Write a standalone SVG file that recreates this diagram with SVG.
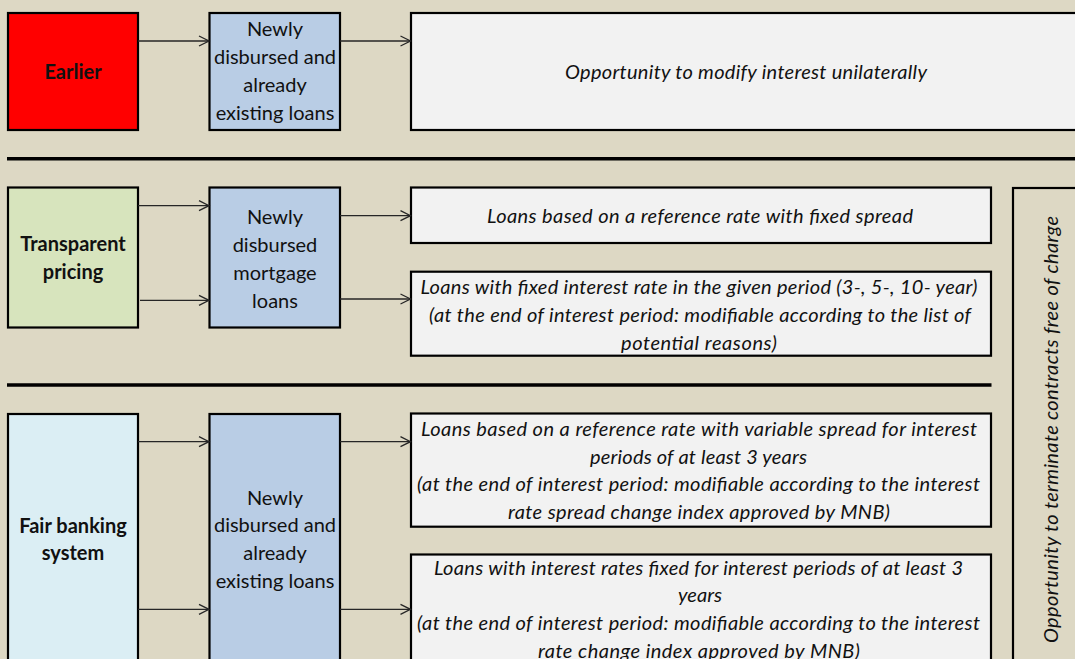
<svg xmlns="http://www.w3.org/2000/svg" width="1075" height="659" viewBox="0 0 1075 659">
<defs>
<marker id="arr" markerUnits="userSpaceOnUse" markerWidth="14" markerHeight="14" refX="11" refY="6" orient="auto">
<path d="M1,1 L11,6 L1,11" fill="none" stroke="#262626" stroke-width="1.3"/>
</marker>
</defs>
<style>
.box{stroke:#000;stroke-width:2.2}
.t{font-family:Lato,"Liberation Sans",sans-serif;font-size:20px;fill:#111;text-anchor:middle}
.b{font-weight:bold}
.i{font-style:italic}
.sep{stroke:#000;stroke-width:3.6}
.c{stroke:#262626;stroke-width:1.3;fill:none;marker-end:url(#arr)}
</style>
<rect x="0" y="0" width="1075" height="659" fill="#DDD8C4"/>

<g id="separators">
<line class="sep" x1="7" y1="158.7" x2="1080" y2="158.7"/>
<line class="sep" x1="7" y1="385" x2="991.5" y2="385"/>
</g>

<g id="earlier">
<rect class="box" x="8" y="13" width="130" height="117" fill="#FF0000"/>
<text class="t b" x="73" y="79">Earlier</text>
</g>
<g id="loans1">
<rect class="box" x="209.5" y="13" width="130.5" height="117" fill="#B9CDE5"/>
<text class="t" x="275" y="36">Newly</text>
<text class="t" x="275" y="64">disbursed and</text>
<text class="t" x="275" y="92">already</text>
<text class="t" x="275" y="120">existing loans</text>
</g>
<g id="modify">
<rect class="box" x="411" y="13" width="680" height="117" fill="#F2F2F2"/>
<text class="t i" x="746" y="79" textLength="362">Opportunity to modify interest unilaterally</text>
</g>

<g id="transparent">
<rect class="box" x="8" y="187.5" width="130" height="140" fill="#D7E4BD"/>
<text class="t b" x="73" y="251">Transparent</text>
<text class="t b" x="73" y="279">pricing</text>
</g>
<g id="loans2">
<rect class="box" x="209.5" y="187.5" width="130.5" height="140" fill="#B9CDE5"/>
<text class="t" x="275" y="223.5">Newly</text>
<text class="t" x="275" y="251.5">disbursed</text>
<text class="t" x="275" y="279.5">mortgage</text>
<text class="t" x="275" y="307.5">loans</text>
</g>
<g id="fixedspread">
<rect class="box" x="411" y="187.5" width="580" height="55.5" fill="#F2F2F2"/>
<text class="t i" x="700" y="223" textLength="426">Loans based on a reference rate with fixed spread</text>
</g>
<g id="fixedrate">
<rect class="box" x="411" y="271.7" width="580" height="84" fill="#F2F2F2"/>
<text class="t i" x="699" y="294" textLength="557">Loans with fixed interest rate in the given period (3-, 5-, 10- year)</text>
<text class="t i" x="700" y="322" textLength="542">(at the end of interest period: modifiable according to the list of</text>
<text class="t i" x="699" y="350" textLength="156">potential reasons)</text>
</g>

<g id="fair">
<rect class="box" x="8" y="414" width="130" height="260" fill="#DBEEF4"/>
<text class="t b" x="73" y="532.5">Fair banking</text>
<text class="t b" x="73" y="560">system</text>
</g>
<g id="loans3">
<rect class="box" x="209.5" y="414" width="130.5" height="260" fill="#B9CDE5"/>
<text class="t" x="275" y="504.5">Newly</text>
<text class="t" x="275" y="532.3">disbursed and</text>
<text class="t" x="275" y="560">already</text>
<text class="t" x="275" y="587.7">existing loans</text>
</g>
<g id="variablespread">
<rect class="box" x="411" y="413.5" width="580" height="113.2" fill="#F2F2F2"/>
<text class="t i" x="699" y="436" textLength="556">Loans based on a reference rate with variable spread for interest</text>
<text class="t i" x="698.5" y="463.5" textLength="217">periods of at least 3 years</text>
<text class="t i" x="698.5" y="491" textLength="563">(at the end of interest period: modifiable according to the interest</text>
<text class="t i" x="699" y="518.5" textLength="382">rate spread change index approved by MNB)</text>
</g>
<g id="fixedperiod">
<rect class="box" x="411" y="554.5" width="580" height="120" fill="#F2F2F2"/>
<text class="t i" x="698.5" y="574.5" textLength="529">Loans with interest rates fixed for interest periods of at least 3</text>
<text class="t i" x="700" y="602" textLength="44">years</text>
<text class="t i" x="698.5" y="630" textLength="563">(at the end of interest period: modifiable according to the interest</text>
<text class="t i" x="699" y="657.5" textLength="322">rate change index approved by MNB)</text>
</g>

<g id="terminate">
<rect class="box" x="1013" y="188" width="80" height="490" fill="#DDD8C4"/>
<text class="t i" transform="translate(1058,429.5) rotate(-90)" x="0" y="0" textLength="427">Opportunity to terminate contracts free of charge</text>
</g>

<g id="connectors">
<line class="c" x1="138" y1="41" x2="209" y2="41"/>
<line class="c" x1="340" y1="41" x2="410.5" y2="41"/>
<line class="c" x1="138" y1="205.7" x2="209" y2="205.7"/>
<line class="c" x1="140" y1="300.3" x2="209" y2="300.3"/>
<line class="c" x1="340" y1="215.7" x2="410.5" y2="215.7"/>
<line class="c" x1="340" y1="299" x2="410.5" y2="299"/>
<line class="c" x1="138" y1="441.7" x2="209" y2="441.7"/>
<line class="c" x1="138" y1="609.3" x2="209" y2="609.3"/>
<line class="c" x1="340" y1="441.7" x2="410.5" y2="441.7"/>
<line class="c" x1="340" y1="609.3" x2="410.5" y2="609.3"/>
</g>
</svg>
